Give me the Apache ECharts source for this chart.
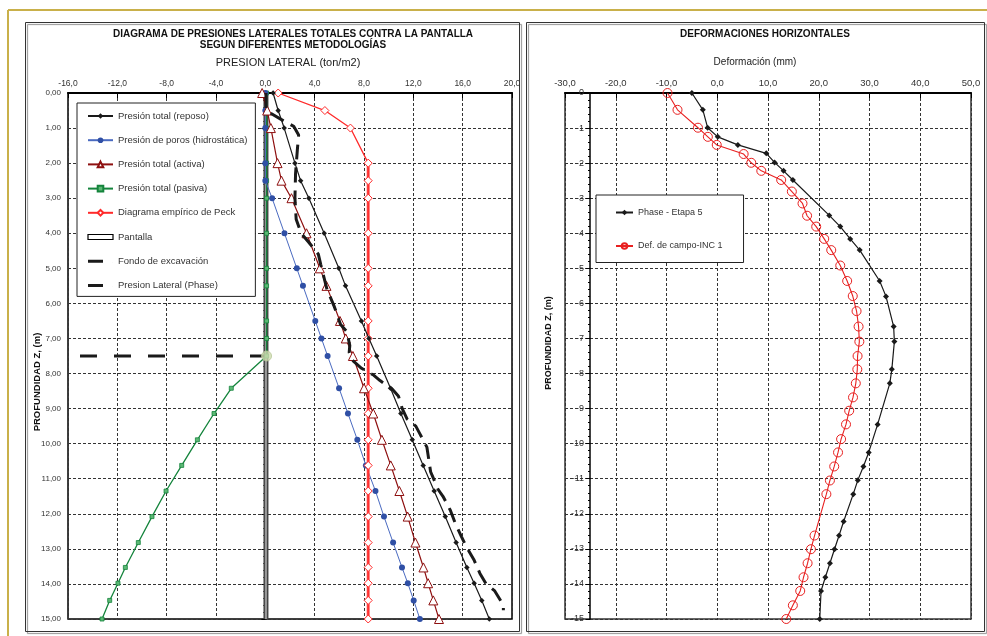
<!DOCTYPE html>
<html><head><meta charset="utf-8">
<script src="https://cdn.jsdelivr.net/npm/echarts@6/dist/echarts.min.js"></script>
<style>html,body{margin:0;padding:0;background:#fff}#c{width:987px;height:636px}</style>
</head><body><div id="c"></div>
<script>
// ---------- LEFT CHART DATA (presión lateral, ton/m2 vs profundidad, m) ----------
const zL = [0,0.5,1,2,2.5,3,4,5,5.5,6.5,7,7.5,8.42,9.14,9.89,10.62,11.35,12.08,12.82,13.53,13.98,14.47,15];
const reposo = [0.63,1.04,1.53,2.4,2.86,3.53,4.77,5.96,6.5,7.79,8.4,9.03,10.15,10.99,11.91,12.8,13.69,14.59,15.47,16.34,16.93,17.55,18.16];
const poros = [0,0,0,0,0,0.55,1.55,2.55,3.05,4.05,4.55,5.05,5.98,6.7,7.46,8.15,8.93,9.62,10.36,11.08,11.55,12.03,12.53];
const activa = [-0.26,0.15,0.45,0.99,1.31,2.12,3.34,4.42,4.96,6.05,6.52,7.1,8.0,8.75,9.45,10.17,10.87,11.54,12.17,12.82,13.2,13.62,14.08];
const pasiva = [0.1,0.1,0.1,0.1,0.1,0.1,0.1,0.1,0.1,0.1,0.1,0.1,-2.76,-4.16,-5.51,-6.78,-8.05,-9.19,-10.3,-11.35,-11.95,-12.62,-13.24];
const peck = [1.04,4.83,6.9,8.34,8.34,8.34,8.34,8.34,8.34,8.34,8.34,8.34,8.34,8.34,8.34,8.34,8.34,8.34,8.34,8.34,8.34,8.34,8.34];
const pantallaP = [0.05,0.05];
const pantallaZ = [0,15];
const fondoP = [-16,0];
const fondoZ = [7.5,7.5];
const excavP = [0.1];
const excavZ = [7.5];
const phaseLatP = [0.05,0.05,1.5,2.3,2.7,2.6,2.45,2.4,2.5,2.9,3.5,4.3,4.5,5.0,5.6,6.1,6.6,6.85,6.8,7.0,7.8,8.8,9.3,10.3,10.8,11.1,11.5,12.2,12.5,13.1,13.4,14.0,14.4,15.0,15.4,15.9,16.3,16.9,17.4,17.9,18.6,19.3,19.3];
const phaseLatZ = [0,0.5,0.8,0.95,1.2,1.6,2.3,3.0,3.6,4.0,4.25,4.6,4.9,5.6,6.1,6.6,6.8,7.2,7.4,7.6,7.85,8.05,8.2,8.45,8.65,9.0,9.3,9.5,9.7,10.1,10.8,11.3,11.5,11.9,12.27,12.65,12.94,13.3,13.7,14.0,14.2,14.6,14.75];
const leftNames = ['Presión total (reposo)','Presión de poros (hidrostática)','Presión total (activa)','Presión total (pasiva)','Diagrama empírico de Peck','Pantalla','Fondo de excavación','Presion Lateral (Phase)'];

// ---------- RIGHT CHART DATA (deformación, mm vs profundidad) ----------
const phaseDef = [-5.0,-2.84,-1.9,0.1,4.06,9.65,11.3,13.07,14.9,22.07,24.24,26.2,28.07,32.0,33.25,34.76,34.9,34.4,34.0,31.6,29.84,28.8,27.7,26.8,24.9,24.0,23.1,22.2,21.3,20.45,20.2];
const phaseZ = [0,-0.48,-0.99,-1.25,-1.48,-1.72,-1.98,-2.22,-2.48,-3.49,-3.81,-4.16,-4.48,-5.36,-5.8,-6.66,-7.09,-7.88,-8.28,-9.45,-10.25,-10.65,-11.04,-11.44,-12.22,-12.62,-13.01,-13.41,-13.81,-14.2,-15];
const incDef = [-9.8,-7.83,-3.8,-1.85,-0.1,5.2,6.7,8.68,12.6,14.7,16.8,17.7,19.5,21.08,22.46,24.24,25.6,26.7,27.45,27.85,28.0,27.65,27.6,27.3,26.75,26.0,25.37,24.4,23.8,23.05,22.2,21.5,19.17,18.46,17.8,17.0,16.35,14.9,13.6];
const incZ = [0,-0.48,-0.99,-1.25,-1.48,-1.74,-1.99,-2.22,-2.48,-2.81,-3.15,-3.5,-3.81,-4.16,-4.48,-4.92,-5.36,-5.79,-6.22,-6.66,-7.09,-7.5,-7.88,-8.28,-8.68,-9.06,-9.45,-9.87,-10.25,-10.65,-11.05,-11.44,-12.62,-13.01,-13.41,-13.81,-14.2,-14.61,-15.0];
const rightNames = ['Phase - Etapa 5','Def. de campo-INC 1'];

const FONT = '"Liberation Sans", Arial, sans-serif';
const zip = (a,b) => a.map((v,i)=>[v,b[i]]);
const comma = (v,d) => v.toFixed(d).replace('.',',');

const chart = echarts.init(document.getElementById('c'), null, {renderer:'canvas'});
const gridLine = {show:true, lineStyle:{color:'#333', width:1, type:[3,2]}};
const dashIcon = 'path://M0,0h15v3h-15zM24.9,2.9h0.1v0.1h-0.1z';

const option = {
  animation:false,
  backgroundColor:'#fff',
  textStyle:{fontFamily:FONT},
  grid:[
    {left:68, top:93, width:444, height:526, show:true, borderColor:'#000', borderWidth:1.5, backgroundColor:'#fff'},
    {left:565, top:93, width:406, height:526, show:true, borderColor:'#333', borderWidth:1.5, backgroundColor:'#fff'}
  ],
  xAxis:[
    {gridIndex:0, type:'value', position:'top', min:-16, max:20, interval:4,
     axisLine:{show:true, lineStyle:{color:'#000', width:2}},
     axisTick:{show:true, inside:true, length:5, lineStyle:{color:'#000'}},
     axisLabel:{margin:5, fontSize:8.5, color:'#333', fontFamily:FONT, formatter:v=>comma(v,1)},
     splitLine:gridLine},
    {gridIndex:1, type:'value', position:'top', min:-30, max:50, interval:10,
     axisLine:{show:true, lineStyle:{color:'#000', width:2}},
     axisTick:{show:true, inside:true, length:5, lineStyle:{color:'#000'}},
     axisLabel:{margin:5, fontSize:9.5, color:'#333', fontFamily:FONT, formatter:v=>comma(v,1)},
     splitLine:gridLine}
  ],
  yAxis:[
    {gridIndex:0, type:'value', inverse:true, min:0, max:15, interval:1,
     axisLine:{show:true, lineStyle:{color:'#000', width:1.5}},
     axisTick:{show:true, length:4, lineStyle:{color:'#000'}},
     minorTick:{show:true, splitNumber:5, length:2, lineStyle:{color:'#000'}},
     axisLabel:{margin:7, fontSize:8, color:'#333', fontFamily:FONT, formatter:v=>comma(v,2)},
     splitLine:gridLine},
    {gridIndex:1, type:'value', min:-15, max:0, interval:1, offset:-25,
     axisLine:{show:true, onZero:false, lineStyle:{color:'#000', width:1.5}},
     axisTick:{show:true, length:4, lineStyle:{color:'#000'}},
     minorTick:{show:true, splitNumber:5, length:2, lineStyle:{color:'#000'}},
     axisLabel:{margin:6, fontSize:9, color:'#333', fontFamily:FONT},
     splitLine:gridLine}
  ],
  legend:[
    {left:77, top:103, orient:'vertical', padding:[8,8,6,10], itemWidth:25, itemHeight:7, itemGap:14.2,
     backgroundColor:'#fff', borderColor:'#222', borderWidth:1,
     textStyle:{fontSize:9.5, color:'#333', fontFamily:FONT},
     data:leftNames.map(n => n==='Pantalla' ? {name:n, icon:'path://M0,0h25v5h-25z', itemStyle:{color:'#fff', borderColor:'#000', borderWidth:1.2}}
                         : (n==='Fondo de excavación' || n==='Presion Lateral (Phase)') ? {name:n, icon:dashIcon, itemStyle:{color:'#1a1a1a', borderWidth:0}}
                         : {name:n})},
    {left:596, top:195, orient:'vertical', padding:[13,21,12,19], itemWidth:17, itemHeight:7, itemGap:24.5,
     backgroundColor:'#fff', borderColor:'#222', borderWidth:1,
     textStyle:{fontSize:9, color:'#333', fontFamily:FONT},
     data:rightNames}
  ],
  series:[
    {name:'Pantalla', type:'line', xAxisIndex:0, yAxisIndex:0, data:zip(pantallaP,pantallaZ), symbol:'none',
     lineStyle:{color:'#444', width:5}, itemStyle:{color:'#444'}, z:2},
    {name:'PantallaInner', type:'line', xAxisIndex:0, yAxisIndex:0, data:zip(pantallaP,pantallaZ), symbol:'none',
     lineStyle:{color:'#9a9a9a', width:2}, z:2, silent:true},
    {name:'Fondo de excavación', type:'line', xAxisIndex:0, yAxisIndex:0, data:zip(fondoP,fondoZ), symbol:'none',
     lineStyle:{color:'#1a1a1a', width:3, type:[17,17], dashOffset:-12}, itemStyle:{color:'#1a1a1a'}, z:3},
    {name:'Presión total (pasiva)', type:'line', xAxisIndex:0, yAxisIndex:0, data:zip(pasiva,zL),
     symbol:'rect', symbolSize:4, lineStyle:{color:'#14843c', width:1.3},
     itemStyle:{color:'#5cb874', borderColor:'#14843c', borderWidth:0.8}, z:4},
    {name:'excav', type:'scatter', xAxisIndex:0, yAxisIndex:0, data:zip(excavP,excavZ), symbol:'circle', symbolSize:10,
     itemStyle:{color:'#cfdcb0', borderColor:'#b8c898', borderWidth:1}, z:5, silent:true},
    {name:'Presión de poros (hidrostática)', type:'line', xAxisIndex:0, yAxisIndex:0, data:zip(poros,zL),
     symbol:'circle', symbolSize:6, lineStyle:{color:'#4a6ac0', width:1},
     itemStyle:{color:'#2f4fa5'}, z:5},
    {name:'Diagrama empírico de Peck', type:'line', xAxisIndex:0, yAxisIndex:0, data:zip(peck,zL),
     symbol:'diamond', symbolSize:8, lineStyle:{color:'#ff2a2a', width:1.3},
     itemStyle:{color:'#fff', borderColor:'#ff2a2a', borderWidth:1}, z:6},
    {name:'PeckV', type:'line', xAxisIndex:0, yAxisIndex:0, data:zip(peck.slice(3),zL.slice(3)),
     symbol:'none', lineStyle:{color:'#ff5050', width:3}, z:5, silent:true},
    {name:'Presión total (activa)', type:'line', xAxisIndex:0, yAxisIndex:0, data:zip(activa,zL),
     symbol:'triangle', symbolSize:9, lineStyle:{color:'#8e1010', width:1.2},
     itemStyle:{color:'#fff', borderColor:'#8e1010', borderWidth:1}, z:6},
    {name:'Presión total (reposo)', type:'line', xAxisIndex:0, yAxisIndex:0, data:zip(reposo,zL),
     symbol:'diamond', symbolSize:5.5, lineStyle:{color:'#1a1a1a', width:1.2},
     itemStyle:{color:'#1a1a1a'}, z:7},
    {name:'Presion Lateral (Phase)', type:'line', xAxisIndex:0, yAxisIndex:0, data:zip(phaseLatP,phaseLatZ),
     symbol:'none', lineStyle:{color:'#1a1a1a', width:3, type:[15,8]}, itemStyle:{color:'#1a1a1a'}, z:8},

    {name:'Phase - Etapa 5', type:'line', xAxisIndex:1, yAxisIndex:1, data:zip(phaseDef,phaseZ),
     symbol:'diamond', symbolSize:6, lineStyle:{color:'#1a1a1a', width:1.2}, itemStyle:{color:'#1a1a1a'}, z:6},
    {name:'Def. de campo-INC 1', type:'line', xAxisIndex:1, yAxisIndex:1, data:zip(incDef,incZ),
     symbol:'circle', symbolSize:9, lineStyle:{color:'#e82020', width:1.1},
     itemStyle:{color:'rgba(255,255,255,0)', borderColor:'#e82020', borderWidth:1}, z:5}
  ],
  graphic:[
    {type:'line', shape:{x1:8, y1:10, x2:987, y2:10}, style:{stroke:'#c9b04a', lineWidth:2}, silent:true},
    {type:'line', shape:{x1:8, y1:10, x2:8, y2:636}, style:{stroke:'#c9b04a', lineWidth:2}, silent:true},
    {type:'rect', shape:{x:25.5, y:22.5, width:494, height:609}, style:{fill:'none', stroke:'#333', lineWidth:1, shadowColor:'rgba(0,0,0,0.45)', shadowOffsetX:2, shadowOffsetY:2, shadowBlur:1}, z:-10, silent:true},
    {type:'rect', shape:{x:526.5, y:22.5, width:458, height:609}, style:{fill:'none', stroke:'#333', lineWidth:1, shadowColor:'rgba(0,0,0,0.45)', shadowOffsetX:2, shadowOffsetY:2, shadowBlur:1}, z:-10, silent:true},
    {type:'text', x:293, y:34, style:{text:'DIAGRAMA DE PRESIONES LATERALES TOTALES CONTRA LA PANTALLA', font:'bold 10px '+FONT, fill:'#111', textAlign:'center', textVerticalAlign:'middle'}},
    {type:'text', x:293, y:45.5, style:{text:'SEGUN DIFERENTES METODOLOGÍAS', font:'bold 10px '+FONT, fill:'#111', textAlign:'center', textVerticalAlign:'middle'}},
    {type:'text', x:288, y:63, style:{text:'PRESION LATERAL (ton/m2)', font:'11px '+FONT, fill:'#222', textAlign:'center', textVerticalAlign:'middle'}},
    {type:'text', x:765, y:34.5, style:{text:'DEFORMACIONES HORIZONTALES', font:'bold 10px '+FONT, fill:'#111', textAlign:'center', textVerticalAlign:'middle'}},
    {type:'text', x:755, y:62, style:{text:'Deformación (mm)', font:'10px '+FONT, fill:'#222', textAlign:'center', textVerticalAlign:'middle'}},
    {type:'text', x:37, y:382, rotation:Math.PI/2, style:{text:'PROFUNDIDAD Z, (m)', font:'bold 9.5px '+FONT, fill:'#111', textAlign:'center', textVerticalAlign:'middle'}},
    {type:'text', x:549, y:343, rotation:Math.PI/2, style:{text:'PROFUNDIDAD Z, (m)', font:'bold 9px '+FONT, fill:'#111', textAlign:'center', textVerticalAlign:'middle'}}
  ]
};
chart.setOption(option);
</script></body></html>
